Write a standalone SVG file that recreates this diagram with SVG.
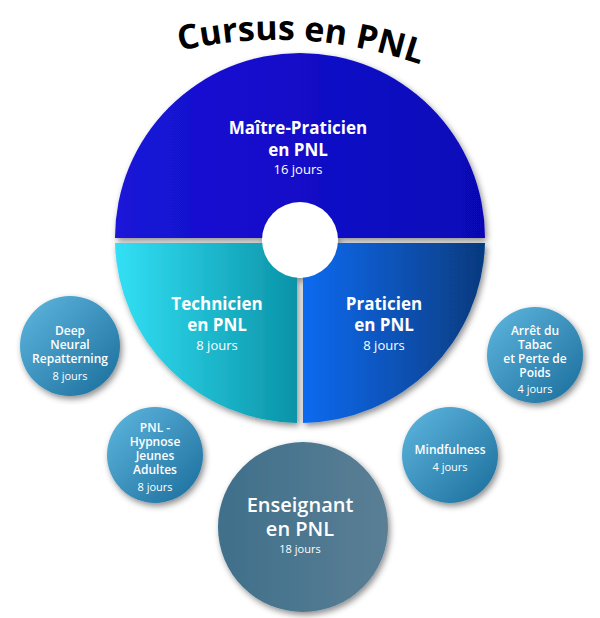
<svg xmlns="http://www.w3.org/2000/svg" width="600" height="618" viewBox="0 0 600 618">
<defs>
<linearGradient id="gTop" x1="0" y1="0" x2="1" y2="0"><stop offset="0" stop-color="#1a14d8"/><stop offset="1" stop-color="#0a06b8"/></linearGradient>
<linearGradient id="gL" x1="0" y1="0" x2="1" y2="0"><stop offset="0" stop-color="#33e0f5"/><stop offset="1" stop-color="#0a93a8"/></linearGradient>
<linearGradient id="gR" x1="0" y1="0" x2="1" y2="0"><stop offset="0" stop-color="#0a6af0"/><stop offset="1" stop-color="#063c80"/></linearGradient>
<linearGradient id="gS" x1="0" y1="0" x2="1" y2="1"><stop offset="0" stop-color="#5fb8e0"/><stop offset="1" stop-color="#1a6c9a"/></linearGradient>
<linearGradient id="gE" x1="0" y1="0" x2="1" y2="0"><stop offset="0" stop-color="#3f6f8a"/><stop offset="1" stop-color="#5a7f95"/></linearGradient>
<filter id="sh" x="-20%" y="-20%" width="140%" height="140%"><feDropShadow dx="2" dy="3" stdDeviation="3" flood-opacity="0.45"/></filter>
<path id="arc" d="M175,52 Q300,22 425,66"/>
</defs>
<style>
text{font-family:"Open Sans","Noto Sans",sans-serif;fill:#fff;text-anchor:middle}
.b{font-weight:bold;font-size:17px}
.n{font-size:13px}
.s{font-size:11px}
.sb{font-size:12px;font-weight:600}
</style>
<text font-size="34" font-weight="bold" style="fill:#000"><textPath href="#arc" startOffset="50%">Cursus en PNL</textPath></text>
<g id="wheel" filter="url(#sh)">
<path d="M115,238 A185,185 0 0 1 485,238 Z" fill="url(#gTop)"/>
<path d="M115,243 L297,243 L297,423 A185,185 0 0 1 115,243 Z" fill="url(#gL)"/>
<path d="M303,243 L485,243 A185,185 0 0 1 303,423 Z" fill="url(#gR)"/>
<circle cx="300" cy="240" r="38" fill="#fff"/>
</g>
<g id="n-maitre"><text x="298" y="134" class="b">Maître-Praticien</text><text x="298" y="156" class="b">en PNL</text><text x="298" y="174" class="n">16 jours</text></g>
<g id="n-tech"><text x="217" y="310" class="b">Technicien</text><text x="217" y="331" class="b">en PNL</text><text x="217" y="350" class="n">8 jours</text></g>
<g id="n-prat"><text x="384" y="310" class="b">Praticien</text><text x="384" y="331" class="b">en PNL</text><text x="384" y="350" class="n">8 jours</text></g>
<g id="n-deep"><circle cx="70" cy="346" r="50" fill="url(#gS)" filter="url(#sh)"/><text x="70" y="335" class="sb">Deep</text><text x="70" y="349" class="sb">Neural</text><text x="70" y="363" class="sb">Repatterning</text><text x="70" y="380" class="s">8 jours</text></g>
<g id="n-hyp"><circle cx="155" cy="455" r="48" fill="url(#gS)" filter="url(#sh)"/><text x="155" y="432" class="sb">PNL -</text><text x="155" y="446" class="sb">Hypnose</text><text x="155" y="460" class="sb">Jeunes</text><text x="155" y="474" class="sb">Adultes</text><text x="155" y="491" class="s">8 jours</text></g>
<g id="n-ens"><circle cx="303" cy="527" r="85" fill="url(#gE)" filter="url(#sh)"/><text x="300" y="512" font-size="20" font-weight="600">Enseignant</text><text x="300" y="536" font-size="20" font-weight="600">en PNL</text><text x="300" y="553" class="s">18 jours</text></g>
<g id="n-mind"><circle cx="450" cy="455" r="48" fill="url(#gS)" filter="url(#sh)"/><text x="450" y="454" class="sb">Mindfulness</text><text x="450" y="471" class="s">4 jours</text></g>
<g id="n-tabac"><circle cx="535" cy="355" r="48" fill="url(#gS)" filter="url(#sh)"/><text x="535" y="335" class="sb">Arrêt du</text><text x="535" y="349" class="sb">Tabac</text><text x="535" y="363" class="sb">et Perte de</text><text x="535" y="377" class="sb">Poids</text><text x="535" y="393" class="s">4 jours</text></g>
<g id="connectors"/>
</svg>
